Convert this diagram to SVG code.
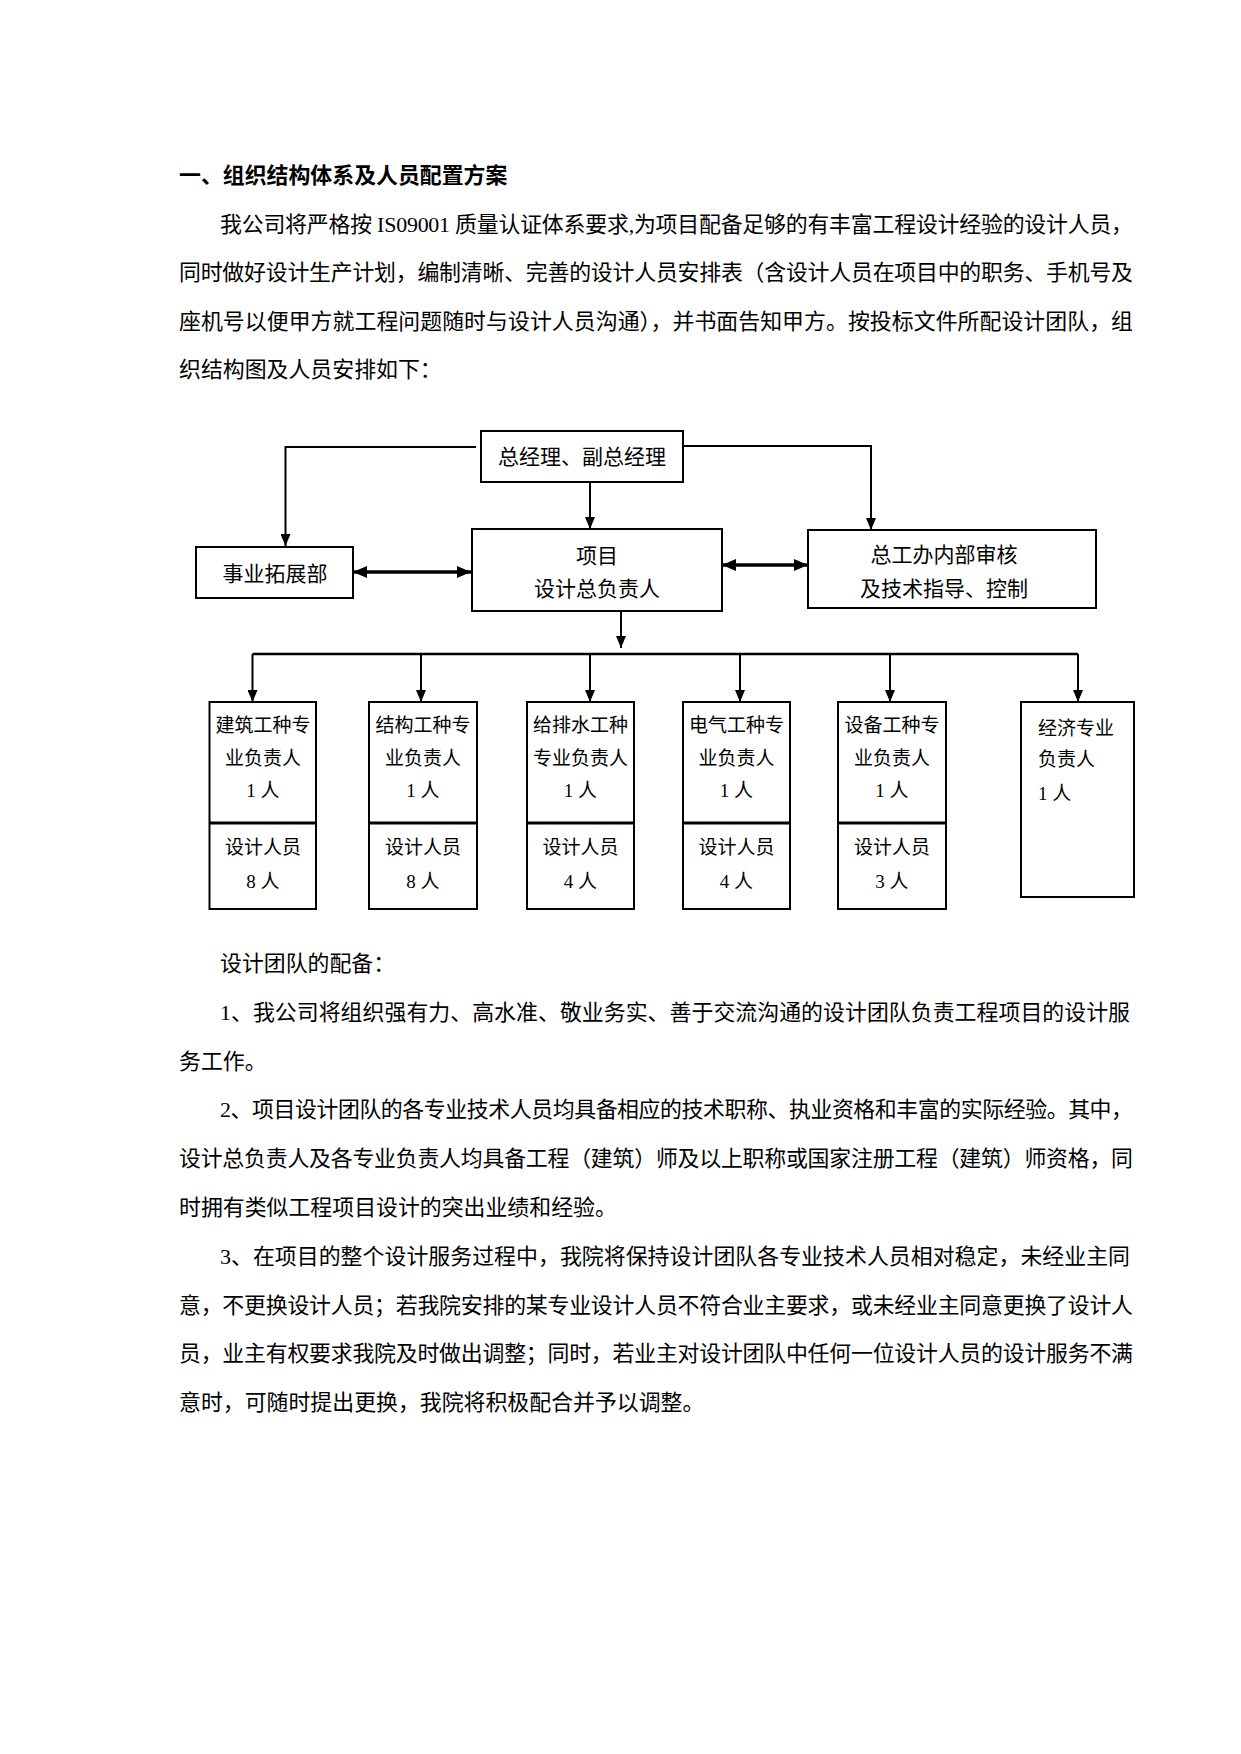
<svg xmlns="http://www.w3.org/2000/svg" width="1241" height="1754" viewBox="0 0 1241 1754">
<style>
text{font-family:"Liberation Serif","Noto Sans CJK SC",serif;fill:#000}
.p{font-size:21.9px}
.t{font-size:21.9px;font-weight:bold}
.n{font-size:21px}
.s{font-size:19px}
.c{text-anchor:middle}
.box{fill:#fff;stroke:#000;stroke-width:2}
.ln{fill:none;stroke:#000;stroke-width:2}
.thk{fill:none;stroke:#000;stroke-width:3.5}
</style>
<defs>
<marker id="ah" markerUnits="userSpaceOnUse" markerWidth="12" markerHeight="10" refX="12" refY="5" orient="auto-start-reverse" viewBox="0 0 12 10">
<path d="M0,0 L12,5 L0,10 z" fill="#000"/>
</marker>
<marker id="ahb" markerUnits="userSpaceOnUse" markerWidth="14" markerHeight="12" refX="14" refY="6" orient="auto-start-reverse" viewBox="0 0 14 12">
<path d="M0,0 L14,6 L0,12 z" fill="#000"/>
</marker>
</defs>
<rect width="1241" height="1754" fill="#fff"/>

<g id="intro">
<text class="t" x="179" y="183">一、组织结构体系及人员配置方案</text>
<text class="p" x="220" y="232" textLength="913" lengthAdjust="spacing">我公司将严格按 IS09001 质量认证体系要求,为项目配备足够的有丰富工程设计经验的设计人员，</text>
<text class="p" x="179" y="280" textLength="954" lengthAdjust="spacing">同时做好设计生产计划，编制清晰、完善的设计人员安排表（含设计人员在项目中的职务、手机号及</text>
<text class="p" x="179" y="329" textLength="954" lengthAdjust="spacing">座机号以便甲方就工程问题随时与设计人员沟通），并书面告知甲方。按投标文件所配设计团队，组</text>
<text class="p" x="179" y="377">织结构图及人员安排如下：</text>
</g>

<g id="connectors">
<polyline class="ln" points="476,447 285.5,447 285.5,546" marker-end="url(#ah)"/>
<line class="ln" x1="590" y1="482" x2="590" y2="529" marker-end="url(#ah)"/>
<polyline class="ln" points="683,446 871,446 871,530" marker-end="url(#ah)"/>
<line class="thk" x1="353" y1="572" x2="471" y2="572" marker-start="url(#ahb)" marker-end="url(#ahb)"/>
<line class="thk" x1="722" y1="565" x2="808" y2="565" marker-start="url(#ahb)" marker-end="url(#ahb)"/>
<line class="ln" x1="621" y1="611" x2="621" y2="648" marker-end="url(#ah)"/>
<line class="thk" style="stroke-width:2.5" x1="252.5" y1="654" x2="1078" y2="654"/>
<line class="ln" x1="252.5" y1="654" x2="252.5" y2="702" marker-end="url(#ah)"/>
<line class="ln" x1="421" y1="654" x2="421" y2="702" marker-end="url(#ah)"/>
<line class="ln" x1="590" y1="654" x2="590" y2="702" marker-end="url(#ah)"/>
<line class="ln" x1="740" y1="654" x2="740" y2="702" marker-end="url(#ah)"/>
<line class="ln" x1="890" y1="654" x2="890" y2="702" marker-end="url(#ah)"/>
<line class="ln" x1="1078" y1="654" x2="1078" y2="702" marker-end="url(#ah)"/>
</g>

<g id="n-gm">
<rect class="box" x="481" y="431" width="202" height="51"/>
<text class="n c" x="582" y="464">总经理、副总经理</text>
</g>
<g id="n-biz">
<rect class="box" x="196" y="547" width="157" height="51"/>
<text class="n c" x="275" y="581">事业拓展部</text>
</g>
<g id="n-proj">
<rect class="box" x="472" y="529" width="250" height="82"/>
<text class="n c" x="597" y="563">项目</text>
<text class="n c" x="597" y="596">设计总负责人</text>
</g>
<g id="n-chief">
<rect class="box" x="808" y="530" width="288" height="78"/>
<text class="n c" x="944" y="562">总工办内部审核</text>
<text class="n c" x="944" y="596">及技术指导、控制</text>
</g>

<g id="n-arch">
<rect class="box" x="209.5" y="702" width="106.5" height="207"/>
<line class="thk" style="stroke-width:3" x1="209.5" y1="823" x2="316" y2="823"/>
<text class="s c" x="263" y="732">建筑工种专</text>
<text class="s c" x="263" y="765">业负责人</text>
<text class="s c" x="263" y="797">1 人</text>
<text class="s c" x="263" y="854">设计人员</text>
<text class="s c" x="263" y="888">8 人</text>
</g>
<g id="n-struct">
<rect class="box" x="369" y="702" width="108" height="207"/>
<line class="thk" style="stroke-width:3" x1="369" y1="823" x2="477" y2="823"/>
<text class="s c" x="423" y="732">结构工种专</text>
<text class="s c" x="423" y="765">业负责人</text>
<text class="s c" x="423" y="797">1 人</text>
<text class="s c" x="423" y="854">设计人员</text>
<text class="s c" x="423" y="888">8 人</text>
</g>
<g id="n-water">
<rect class="box" x="527" y="702" width="107" height="207"/>
<line class="thk" style="stroke-width:3" x1="527" y1="823" x2="634" y2="823"/>
<text class="s c" x="580.5" y="732">给排水工种</text>
<text class="s c" x="580.5" y="765">专业负责人</text>
<text class="s c" x="580.5" y="797">1 人</text>
<text class="s c" x="580.5" y="854">设计人员</text>
<text class="s c" x="580.5" y="888">4 人</text>
</g>
<g id="n-elec">
<rect class="box" x="683" y="702" width="107" height="207"/>
<line class="thk" style="stroke-width:3" x1="683" y1="823" x2="790" y2="823"/>
<text class="s c" x="736.5" y="732">电气工种专</text>
<text class="s c" x="736.5" y="765">业负责人</text>
<text class="s c" x="736.5" y="797">1 人</text>
<text class="s c" x="736.5" y="854">设计人员</text>
<text class="s c" x="736.5" y="888">4 人</text>
</g>
<g id="n-equip">
<rect class="box" x="838" y="702" width="108" height="207"/>
<line class="thk" style="stroke-width:3" x1="838" y1="823" x2="946" y2="823"/>
<text class="s c" x="892" y="732">设备工种专</text>
<text class="s c" x="892" y="765">业负责人</text>
<text class="s c" x="892" y="797">1 人</text>
<text class="s c" x="892" y="854">设计人员</text>
<text class="s c" x="892" y="888">3 人</text>
</g>
<g id="n-econ">
<rect class="box" x="1021" y="702" width="113" height="195"/>
<text class="s" x="1038" y="735">经济专业</text>
<text class="s" x="1038" y="766">负责人</text>
<text class="s" x="1038" y="800">1 人</text>
</g>

<g id="team">
<text class="p" x="220" y="971">设计团队的配备：</text>
<text class="p" x="220" y="1020" textLength="910" lengthAdjust="spacing">1、我公司将组织强有力、高水准、敬业务实、善于交流沟通的设计团队负责工程项目的设计服</text>
<text class="p" x="179" y="1069">务工作。</text>
<text class="p" x="220" y="1117" textLength="913" lengthAdjust="spacing">2、项目设计团队的各专业技术人员均具备相应的技术职称、执业资格和丰富的实际经验。其中，</text>
<text class="p" x="179" y="1166" textLength="954" lengthAdjust="spacing">设计总负责人及各专业负责人均具备工程（建筑）师及以上职称或国家注册工程（建筑）师资格，同</text>
<text class="p" x="179" y="1215">时拥有类似工程项目设计的突出业绩和经验。</text>
<text class="p" x="220" y="1264" textLength="910" lengthAdjust="spacing">3、在项目的整个设计服务过程中，我院将保持设计团队各专业技术人员相对稳定，未经业主同</text>
<text class="p" x="179" y="1313" textLength="954" lengthAdjust="spacing">意，不更换设计人员；若我院安排的某专业设计人员不符合业主要求，或未经业主同意更换了设计人</text>
<text class="p" x="179" y="1361" textLength="954" lengthAdjust="spacing">员，业主有权要求我院及时做出调整；同时，若业主对设计团队中任何一位设计人员的设计服务不满</text>
<text class="p" x="179" y="1410">意时，可随时提出更换，我院将积极配合并予以调整。</text>
</g>
</svg>
